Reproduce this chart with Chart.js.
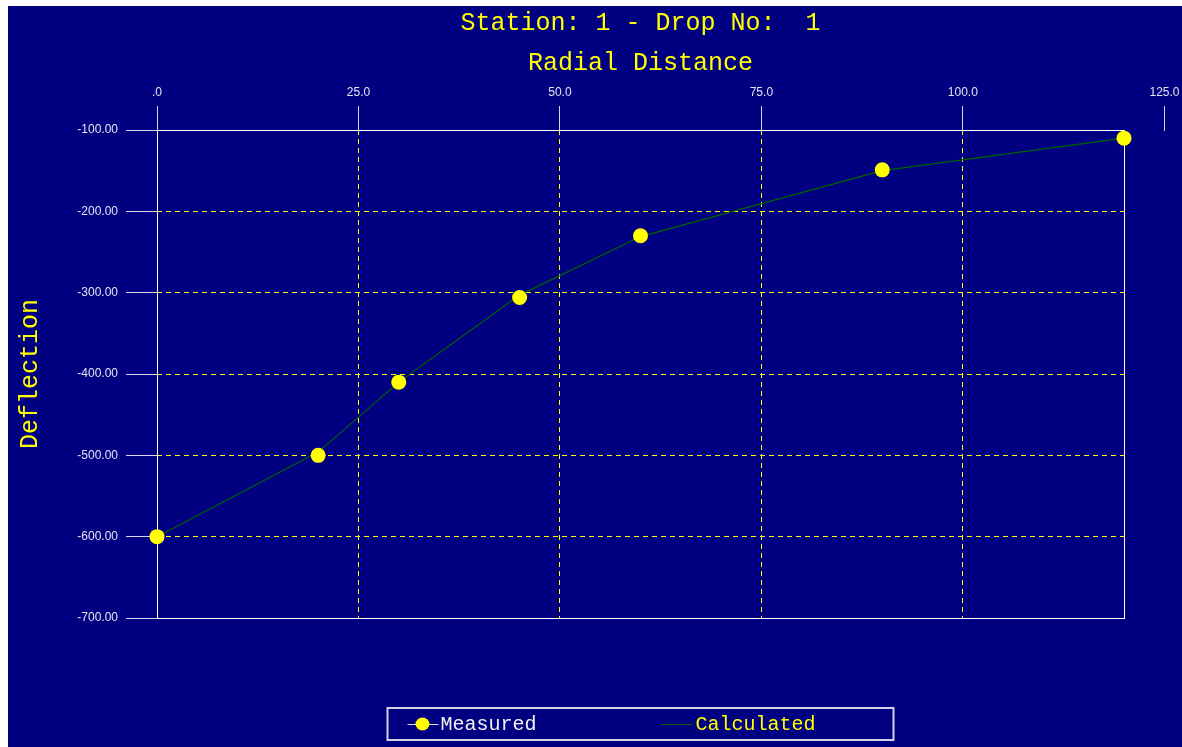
<!DOCTYPE html>
<html>
<head>
<meta charset="utf-8">
<script src="https://cdn.jsdelivr.net/npm/chart.js@4.4.1/dist/chart.umd.min.js"></script>
<style>
  body { margin: 0; background: #ffffff; }
  #wrap { position: absolute; left: 8px; top: 6px; width: 1174px; height: 741px; background: #000080; }
</style>
</head>
<body>
<div id="wrap"><canvas id="chart"></canvas></div>
<script>
var distances = [0, 20, 30, 45, 60, 90, 120];
var measured = [-600, -500, -410, -306, -230, -149, -110];
var calculated = [-600, -496, -410, -303, -231, -150, -110];
var xTickValues = [0, 25, 50, 75, 100];
var xExtraTick = 125;

var mono = '"Liberation Mono", "Courier New", monospace';
var sans = '"Liberation Sans", Arial, sans-serif';
var tickText = '#e4e4f0';

var toPoints = function(xs, ys){
  var pts = [];
  for(var i = 0; i < xs.length; i++){
    pts.push({x: xs[i], y: ys[i]});
  }
  return pts;
};

// frame round the plot, drawn under the points
var framePlugin = {
  id: 'frame',
  beforeDatasetsDraw: function(chart){
    var a = chart.chartArea;
    var ctx = chart.ctx;
    ctx.save();
    ctx.strokeStyle = '#ffffff';
    ctx.lineWidth = 1;
    ctx.strokeRect(Math.round(a.left) + 0.5, Math.round(a.top) + 0.5,
      Math.round(a.right) - Math.round(a.left), Math.round(a.bottom) - Math.round(a.top));
    ctx.restore();
  }
};

// the 125.0 tick sits outside the plot
var extraTickPlugin = {
  id: 'extraTick',
  afterDraw: function(chart){
    var sx = chart.scales.x;
    var a = chart.chartArea;
    var ctx = chart.ctx;
    var px = Math.round(sx.getPixelForValue(xExtraTick)) + 0.5;
    ctx.save();
    ctx.strokeStyle = '#d0d0e0';
    ctx.lineWidth = 1;
    ctx.beginPath();
    ctx.moveTo(px, a.top - 24);
    ctx.lineTo(px, a.top + 1);
    ctx.stroke();
    ctx.fillStyle = tickText;
    ctx.font = '12px ' + sans;
    ctx.textAlign = 'center';
    ctx.textBaseline = 'middle';
    ctx.fillText(xExtraTick.toFixed(1), px, a.top - 37);
    ctx.restore();
  }
};

var legendPlugin = {
  id: 'boxLegend',
  afterDraw: function(chart){
    var a = chart.chartArea;
    var ctx = chart.ctx;
    var cx = (a.left + a.right) / 2;
    var top = a.bottom + 90;
    var left = cx - 253;
    ctx.save();
    ctx.strokeStyle = '#d0d0e0';
    ctx.lineWidth = 2;
    ctx.strokeRect(left, top, 506, 32);
    var my = top + 16;
    var ds = chart.data.datasets;
    // measured
    ctx.strokeStyle = '#d8d8e8';
    ctx.lineWidth = 1;
    ctx.beginPath();
    ctx.moveTo(left + 20, my + 0.5);
    ctx.lineTo(left + 51, my + 0.5);
    ctx.stroke();
    ctx.fillStyle = '#ffff00';
    ctx.beginPath();
    ctx.ellipse(left + 35, my, 7, 6.5, 0, 0, Math.PI * 2);
    ctx.fill();
    ctx.font = '20px ' + mono;
    ctx.textAlign = 'left';
    ctx.textBaseline = 'middle';
    ctx.fillStyle = '#f0f0f0';
    ctx.fillText(ds[0].label, left + 53, my + 1);
    // calculated
    ctx.strokeStyle = ds[1].borderColor;
    ctx.beginPath();
    ctx.moveTo(left + 273, my + 0.5);
    ctx.lineTo(left + 305, my + 0.5);
    ctx.stroke();
    ctx.fillStyle = '#ffff00';
    ctx.fillText(ds[1].label, left + 308, my + 1);
    ctx.restore();
  }
};

new Chart(document.getElementById('chart'), {
  type: 'line',
  data: {
    datasets: [
      {
        label: 'Measured',
        data: toPoints(distances, measured),
        showLine: false,
        clip: false,
        pointRadius: 7.5,
        pointHoverRadius: 7.5,
        pointBackgroundColor: '#ffff00',
        pointBorderColor: '#ffff00',
        pointBorderWidth: 0,
        borderColor: '#ffffff',
        order: 0
      },
      {
        label: 'Calculated',
        data: toPoints(distances, calculated),
        clip: false,
        borderColor: '#006400',
        borderWidth: 1.2,
        pointRadius: 0,
        tension: 0,
        order: 1
      }
    ]
  },
  options: {
    responsive: true,
    maintainAspectRatio: false,
    animation: false,
    layout: {padding: {left: 0, right: 58, top: 0, bottom: 129}},
    plugins: {
      legend: {display: false},
      tooltip: {enabled: false},
      title: {
        display: true,
        fullSize: false,
        text: 'Station: 1 - Drop No:  1',
        color: '#ffff00',
        font: {family: mono, size: 25, weight: 'normal'},
        padding: {top: 2, bottom: 3}
      }
    },
    scales: {
      x: {
        type: 'linear',
        position: 'top',
        min: 0,
        max: 120,
        afterFit: function(s){ s.height = 89; },
        afterBuildTicks: function(s){
          s.ticks = xTickValues.map(function(v){ return {value: v}; });
        },
        ticks: {
          color: tickText,
          font: {family: sans, size: 12},
          padding: 6,
          maxRotation: 0,
          callback: function(v){ return v === 0 ? '.0' : v.toFixed(1); }
        },
        grid: {
          color: '#ffff00',
          tickColor: '#d8d8e8',
          tickLength: 24,
          lineWidth: 1
        },
        border: {display: false, dash: [5, 4]},
        title: {
          display: true,
          text: 'Radial Distance',
          color: '#ffff00',
          font: {family: mono, size: 25, weight: 'normal'},
          padding: {top: 7, bottom: 0}
        }
      },
      y: {
        type: 'linear',
        min: -700,
        max: -100,
        afterFit: function(s){ s.width = 149; },
        ticks: {
          stepSize: 100,
          color: tickText,
          font: {family: sans, size: 12},
          padding: 8,
          callback: function(v){ return v.toFixed(2); }
        },
        grid: {
          color: '#ffff00',
          tickColor: '#d8d8e8',
          tickLength: 31,
          lineWidth: 1
        },
        border: {display: false, dash: [5, 4]},
        title: {
          display: true,
          text: 'Deflection',
          color: '#ffff00',
          font: {family: mono, size: 25, weight: 'normal'},
          padding: {top: 7, bottom: 0}
        }
      }
    }
  },
  plugins: [framePlugin, extraTickPlugin, legendPlugin]
});
</script>
</body>
</html>
